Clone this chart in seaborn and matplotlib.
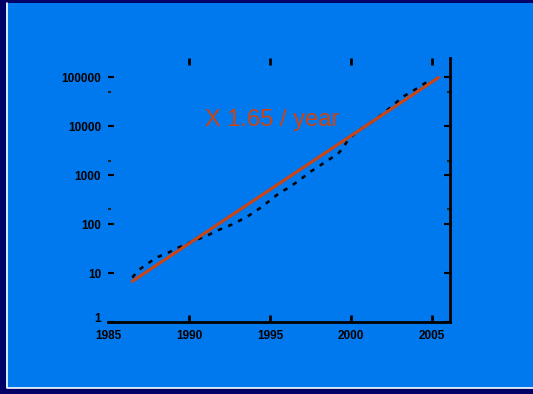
import matplotlib
matplotlib.use("Agg")
import matplotlib.pyplot as plt
import matplotlib.patches as patches
import matplotlib.transforms as mtransforms
from matplotlib.lines import Line2D
import pandas as pd
import seaborn as sns

years = [1986.5, 1986.85, 1987.4, 1988.0, 1988.6, 1989.4, 1990.25, 1991.1, 1991.9,
         1992.7, 1993.6, 1994.4, 1995.0, 1995.6, 1996.2, 1996.85, 1997.5, 1998.1,
         1998.6, 1999.15, 1999.5, 1999.8, 2000.4, 2001.0, 2001.8, 2002.6, 2003.2,
         2004.1, 2004.9]
values = [8.1, 11.3, 15.2, 21, 25, 34, 45, 58, 78,
          100, 143, 215, 308, 441, 570, 815, 1186, 1600,
          2065, 2665, 3593, 5275, 8080, 10500, 16500, 27200, 40600,
          60600, 90500]

# fitted trend, two end points
fit_years = [1986.5, 2005.4]
fit_values = [6.8, 100000]

x_ticks = [1985, 1990, 1995, 2000, 2005]
y_ticks = [1, 10, 100, 1000, 10000, 100000]
y_labels = ["1", "10", "100", "1000", "10000", "100000"]
y_minor = [200, 2000, 50000]

df = pd.DataFrame({"year": years, "value": values})
df_fit = pd.DataFrame({"year": fit_years, "value": fit_values})

navy = "#000066"
blue = "#0078EE"
red = "#CC4412"

sns.set_style("ticks")
plt.rcParams["font.family"] = ["Liberation Sans", "DejaVu Sans"]

fig = plt.figure(figsize=(5.33, 3.94), dpi=100, facecolor=navy)
# blue panel, white edge only on the left and bottom
fig.patches.append(patches.Rectangle((6 / 533, 6 / 394), 1.0, 1 - 9 / 394,
                                     transform=fig.transFigure, facecolor=blue,
                                     edgecolor="none", zorder=-5))
fig.lines.append(Line2D([6.5 / 533, 6.5 / 533, 1.0], [1 - 3 / 394, 6.5 / 394, 6.5 / 394],
                        transform=fig.transFigure, color="white", linewidth=1.2, zorder=-4))

ax = fig.add_axes([108 / 533, 72 / 394, 342 / 533, 264 / 394])
ax.set_zorder(5)
ax.set_facecolor("none")

sns.lineplot(data=df, x="year", y="value", ax=ax, color="black", linewidth=1.8,
             linestyle=(0, (1.8, 2.6)))
sns.lineplot(data=df_fit, x="year", y="value", ax=ax, color=red, linewidth=2.2)

ax.set_yscale("log")
ax.set_xlim(1985, 2006.1)
ax.set_ylim(1, 2.5e5)

ax.set_xticks(x_ticks)
ax.set_xticklabels([str(v) for v in x_ticks], fontsize=8.5, fontweight="bold")
ax.set_yticks(y_ticks)
ax.set_yticklabels(y_labels, fontsize=8.5, fontweight="bold")
ax.set_yticks(y_minor, minor=True)
ax.yaxis.set_minor_formatter(plt.NullFormatter())

ax.set_xlabel("")
ax.set_ylabel("")

for s in ["left", "top"]:
    ax.spines[s].set_visible(False)
for s in ["bottom", "right"]:
    ax.spines[s].set_linewidth(2)
    ax.spines[s].set_color("black")

ax.tick_params(axis="x", which="major", direction="in", top=True, bottom=True,
               length=5, width=2, pad=6, colors="black")
ax.tick_params(axis="y", which="major", direction="in", left=True, right=True,
               length=4, width=1.5, pad=5, colors="black")
ax.tick_params(axis="y", which="minor", direction="in", left=True, right=True,
               length=2, width=1.5)

# no tick mark at the corner year
first = ax.xaxis.get_major_ticks()[0]
first.tick1line.set_visible(False)
first.tick2line.set_visible(False)

# lift the "1" label a little, as in the reference
one = ax.get_yticklabels()[0]
one.set_transform(one.get_transform() +
                  mtransforms.ScaledTranslation(0, 3 / 72, fig.dpi_scale_trans))

ax.text(1991.0, 13800, "X 1.65 / year", color=red, fontsize=17,
        ha="left", va="center")

fig.savefig("out.png", dpi=100, facecolor=navy)
